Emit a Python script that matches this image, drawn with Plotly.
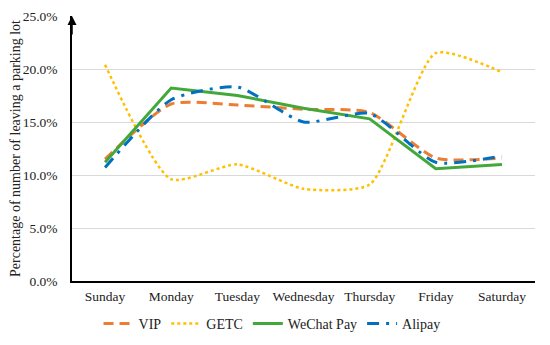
import plotly.graph_objects as go

days = ["Sunday", "Monday", "Tuesday", "Wednesday", "Thursday", "Friday", "Saturday"]
vip = [11.5, 16.7, 16.6, 16.2, 15.9, 11.6, 11.6]
getc = [20.4, 9.6, 11.0, 8.7, 9.1, 21.5, 19.7]
wechat = [11.2, 18.2, 17.5, 16.3, 15.3, 10.6, 11.0]
alipay = [10.7, 17.1, 18.3, 15.0, 15.8, 11.2, 11.8]
yticks = [0, 5, 10, 15, 20, 25]
ytext = ["0.0%", "5.0%", "10.0%", "15.0%", "20.0%", "25.0%"]

font = "Liberation Serif"
fig = go.Figure()
fig.add_trace(go.Scatter(x=days, y=vip, name="VIP", mode="lines",
                         line=dict(color="#ED7D31", width=3, dash="10px,6px", shape="spline", smoothing=0.6)))
fig.add_trace(go.Scatter(x=days, y=getc, name="GETC", mode="lines",
                         line=dict(color="#FFC000", width=2.5, dash="dot", shape="spline", smoothing=0.6)))
fig.add_trace(go.Scatter(x=days, y=wechat, name="WeChat Pay", mode="lines",
                         line=dict(color="#43A83A", width=3)))
fig.add_trace(go.Scatter(x=days, y=alipay, name="Alipay", mode="lines",
                         line=dict(color="#0070C0", width=3, dash="12px,7px,3px,7px", shape="spline", smoothing=0.6)))

# page body has an 8px margin, so the figure is 542x337 and offset accordingly
fig.update_layout(
    width=542, height=337,
    margin=dict(l=64, r=15, t=8, b=64, autoexpand=False),
    paper_bgcolor="white", plot_bgcolor="white",
    font=dict(family=font, size=14, color="#222"),
    showlegend=True,
    legend=dict(orientation="h", x=0.432, xanchor="center", y=-0.162, yanchor="middle",
                font=dict(family=font, size=14), tracegroupgap=0),
)
fig.update_xaxes(range=[-0.5, 6.5], showline=True, linecolor="black", linewidth=1.5, showgrid=False,
                 ticks="", tickfont=dict(family=font, size=13.5), ticklabelstandoff=2)
fig.update_yaxes(range=[0, 25], tickvals=yticks, ticktext=ytext, showline=True,
                 linecolor="black", linewidth=1.5, showgrid=True, gridcolor="#D9D9D9",
                 gridwidth=1.2, ticks="", zeroline=False, tickfont=dict(family=font, size=13.5),
                 ticklabelstandoff=10,
                 title=dict(text="Percentage of number of leaving a parking lot",
                            font=dict(family=font, size=14), standoff=15))
fig.add_annotation(x=0, y=1.0, xref="paper", yref="paper", ax=0, ay=20, axref="pixel",
                   ayref="pixel", text="", showarrow=True, arrowhead=2, arrowsize=1.2,
                   arrowwidth=1.5, arrowcolor="black")
fig.write_html("out.html")
